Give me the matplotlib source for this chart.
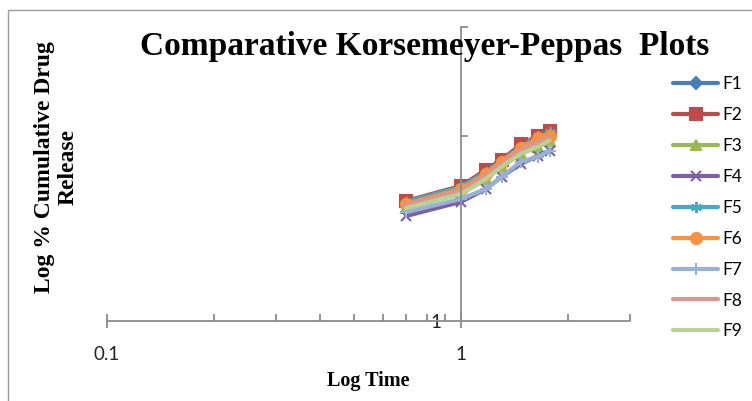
import matplotlib
matplotlib.use("Agg")
import matplotlib.pyplot as plt
from matplotlib.patches import Rectangle
from matplotlib.ticker import FixedLocator, FixedFormatter, NullFormatter

# log time (5, 10, 15, 20, 30, 45, 60 min)
log_time = [0.699, 1.0, 1.176, 1.301, 1.477, 1.653, 1.778]

# log % cumulative drug release
f1 = [1.555, 1.644, 1.740, 1.814, 1.912, 1.986, 2.016]
f2 = [1.566, 1.657, 1.760, 1.828, 1.934, 2.000, 2.031]
f3 = [1.525, 1.608, 1.701, 1.780, 1.869, 1.919, 1.963]
f4 = [1.480, 1.561, 1.638, 1.714, 1.800, 1.855, 1.890]
f5 = [1.561, 1.651, 1.747, 1.821, 1.919, 1.993, 2.023]
f6 = [1.549, 1.638, 1.734, 1.814, 1.912, 1.978, 2.000]
f7 = [1.502, 1.578, 1.638, 1.714, 1.814, 1.849, 1.890]
f8 = [1.543, 1.626, 1.720, 1.800, 1.897, 1.956, 1.986]
f9 = [1.525, 1.608, 1.701, 1.780, 1.869, 1.919, 1.963]

names = ["F1", "F2", "F3", "F4", "F5", "F6", "F7", "F8", "F9"]
series = [f1, f2, f3, f4, f5, f6, f7, f8, f9]
colors = ["#4A7EBB", "#BE4B48", "#98B954", "#7D60A0", "#46AAC5",
          "#F69240", "#95B3D7", "#D99694", "#B9D28F"]
markers = ["D", "s", "^", "x", (6, 2, 0), "o", "+", None, None]
msizes = [6, 9, 7, 7, 8, 8, 8, 0, 0]

fig = plt.figure(figsize=(7.52, 4.01), dpi=100)
ax = fig.add_axes([107 / 752, 1 - 321 / 401, 523 / 752, 294 / 401])

for name, vals, c, m, ms in zip(names, series, colors, markers, msizes):
    ax.plot(log_time, vals, color=c, lw=3.0, marker=m, markersize=ms,
            markeredgecolor=c, markerfacecolor=c, markeredgewidth=1.5,
            label=name, solid_capstyle="round")

ax.set_xscale("log")
ax.set_yscale("log")
ax.set_xlim(0.1, 3)
ax.set_ylim(1, 3)

axis_gray = "#8C8C8C"
for s in ["top", "right"]:
    ax.spines[s].set_visible(False)
ax.spines["left"].set_position(("data", 1))
ax.spines["left"].set_color(axis_gray)
ax.spines["bottom"].set_color(axis_gray)
ax.spines["left"].set_linewidth(1.3)
ax.spines["bottom"].set_linewidth(1.3)

ax.xaxis.set_major_locator(FixedLocator([0.1, 1]))
ax.xaxis.set_major_formatter(FixedFormatter(["0.1", "1"]))
ax.xaxis.set_minor_locator(FixedLocator([0.2, 0.3, 0.4, 0.5, 0.6, 0.7, 0.8, 0.9, 2, 3]))
ax.xaxis.set_minor_formatter(NullFormatter())
ax.yaxis.set_major_locator(FixedLocator([1]))
ax.yaxis.set_major_formatter(FixedFormatter(["1"]))
ax.yaxis.set_minor_locator(FixedLocator([2, 3]))
ax.yaxis.set_minor_formatter(NullFormatter())

ax.tick_params(axis="x", which="major", direction="inout", length=10, width=1.3,
               color=axis_gray, pad=13, labelsize=13.5, labelcolor="#222222")
ax.tick_params(axis="x", which="minor", direction="in", length=5, width=1.3,
               color=axis_gray)
ax.tick_params(axis="y", which="major", length=0, pad=14, labelsize=13.5,
               labelcolor="#222222")
ax.tick_params(axis="y", which="minor", direction="in", length=5, width=1.3,
               color=axis_gray)
for lbl in ax.get_xticklabels() + ax.get_yticklabels():
    lbl.set_family("Lato")

fig.text(425 / 752, 1 - 46 / 401, "Comparative Korsemeyer-Peppas  Plots",
         ha="center", va="center", fontsize=24, fontweight="bold",
         family="Liberation Serif")
fig.text(56 / 752, 1 - 167 / 401, "Log % Cumulative Drug\nRelease",
         ha="center", va="center", rotation=90, multialignment="center",
         fontsize=17, fontweight="bold", family="Liberation Serif",
         linespacing=1.15)
fig.text(368 / 752, 1 - 381 / 401, "Log Time", ha="center", va="center",
         fontsize=14.5, fontweight="bold", family="Liberation Serif")

fig.legend(loc="upper left", bbox_to_anchor=(673 / 752, 1 - 76 / 401),
           frameon=False, prop={"family": "Lato", "size": 12.5},
           handlelength=2.6, handletextpad=0.25, labelspacing=0.86,
           borderpad=0, borderaxespad=0)

fig.add_artist(Rectangle((8 / 752, -0.1), 1.0, 1.1 - 10 / 401,
                         transform=fig.transFigure, fill=False,
                         ec="#9A9A9A", lw=1.0))

fig.savefig("out.png", dpi=100)
